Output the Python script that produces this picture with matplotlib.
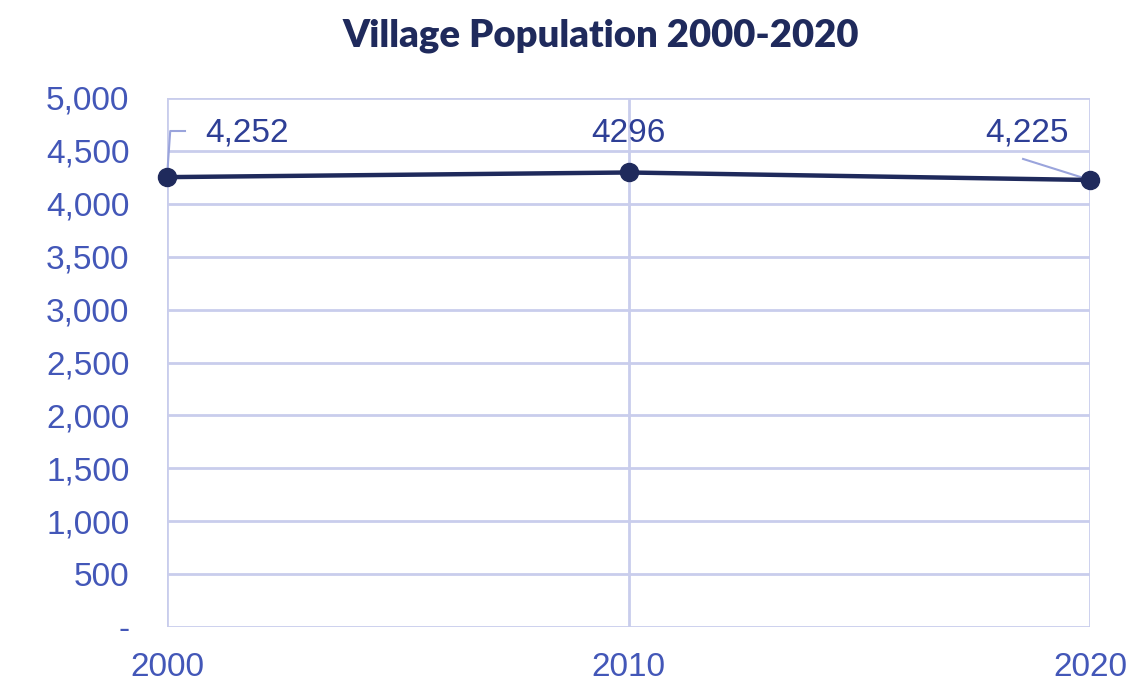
import matplotlib.pyplot as plt
from matplotlib.ticker import FuncFormatter

years = [2000, 2010, 2020]
population = [4252, 4296, 4225]
point_labels = ["4,252", "4296", "4,225"]
y_ticks = [0, 500, 1000, 1500, 2000, 2500, 3000, 3500, 4000, 4500, 5000]

navy = "#1f2a5c"
tick_blue = "#4357b8"
label_blue = "#2e3f96"
grid_col = "#c9cdec"
leader_col = "#9aa4dc"

plt.rcParams["font.family"] = ["Liberation Sans", "DejaVu Sans"]

fig = plt.figure(figsize=(11.4, 6.93), dpi=100)
ax = fig.add_axes([167 / 1140, 1 - 627 / 693, (1090 - 167) / 1140, (627 - 98) / 693])

ax.plot(years, population, color=navy, lw=3.2, marker="o", ms=13,
        solid_capstyle="round", zorder=4, clip_on=False)

ax.set_xlim(2000, 2020)
ax.set_ylim(0, 5000)
ax.set_xticks(years)
ax.set_yticks(y_ticks)
ax.yaxis.set_major_formatter(FuncFormatter(lambda v, _: "-" if v == 0 else f"{int(v):,}"))

ax.grid(True, color=grid_col, lw=2)
for s in ax.spines.values():
    s.set_visible(False)
ax.tick_params(length=0, labelsize=24, colors=tick_blue)
ax.tick_params(axis="y", pad=27)
ax.tick_params(axis="x", pad=18)

# value labels with leader lines
label_kw = dict(fontsize=24, color=label_blue, va="center")
ax.text(2000.82, 4669, point_labels[0], ha="left", **label_kw)
ax.plot([years[0], 2000.07, 2000.39], [population[0], 4688, 4688],
        color=leader_col, lw=1.5, zorder=3, clip_on=False)
ax.text(years[1], 4669, point_labels[1], ha="center", **label_kw)
ax.text(2018.63, 4669, point_labels[2], ha="center", **label_kw)
ax.plot([2018.55, years[2]], [4424, population[2]], color=leader_col, lw=1.5, zorder=3)

fig.text(0.527, 0.949, "Village Population 2000-2020", fontsize=27.5,
         fontweight="heavy", family=["Lato", "DejaVu Sans"], color=navy,
         ha="center", va="center")

fig.savefig("out.png", dpi=100)
